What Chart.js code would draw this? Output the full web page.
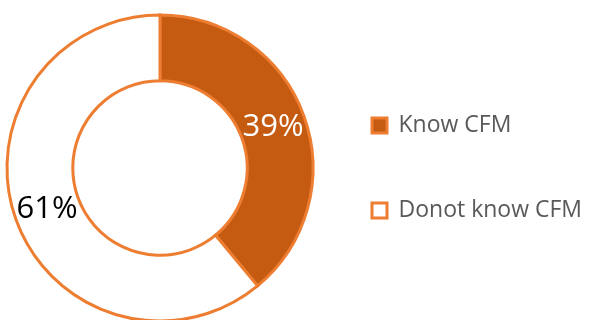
<!DOCTYPE html>
<html>
<head>
<meta charset="utf-8">
<script src="https://cdn.jsdelivr.net/npm/chart.js@4"></script>
<style>
  html, body { margin: 0; padding: 0; background: #fff; overflow: hidden; }
  #wrap { width: 589px; height: 336px; position: relative; }
</style>
</head>
<body>
<div id="wrap"><canvas id="cfmChart"></canvas></div>
<script>
const labels = ['Know CFM', 'Donot know CFM'];
const values = [39, 61];
const fills = ['#C55A11', '#FFFFFF'];
const labelColors = ['#FFFFFF', '#000000'];

// percentage text on each ring segment
const sliceLabels = {
    id: 'sliceLabels',
    afterDatasetsDraw(chart) {
        const ctx = chart.ctx;
        const meta = chart.getDatasetMeta(0);
        const total = values.reduce((a, b) => a + b, 0);
        ctx.save();
        ctx.font = '31px "Open Sans"';
        ctx.textAlign = 'center';
        ctx.textBaseline = 'middle';
        meta.data.forEach((arc, i) => {
            const p = arc.tooltipPosition();
            ctx.fillStyle = labelColors[i];
            ctx.fillText(Math.round(values[i] / total * 100) + '%', p.x, p.y);
        });
        ctx.restore();
    }
};

new Chart(document.getElementById('cfmChart'), {
    type: 'doughnut',
    data: {
        labels: labels,
        datasets: [{
            data: values,
            backgroundColor: fills,
            borderColor: '#ED7D31',
            borderWidth: 3,
            borderJoinStyle: 'miter'
        }]
    },
    options: {
        responsive: true,
        maintainAspectRatio: false,
        animation: false,
        radius: 153,
        cutout: '57%',
        layout: { padding: { left: 10, top: 0, bottom: 0, right: 0 } },
        plugins: {
            tooltip: { enabled: false },
            legend: {
                position: 'right',
                maxWidth: 279,
                labels: {
                    boxWidth: 15,
                    boxHeight: 15,
                    padding: 62,
                    color: '#595959',
                    font: { family: '"Open Sans"', size: 23 }
                }
            }
        }
    },
    plugins: [sliceLabels]
});
</script>
</body>
</html>
